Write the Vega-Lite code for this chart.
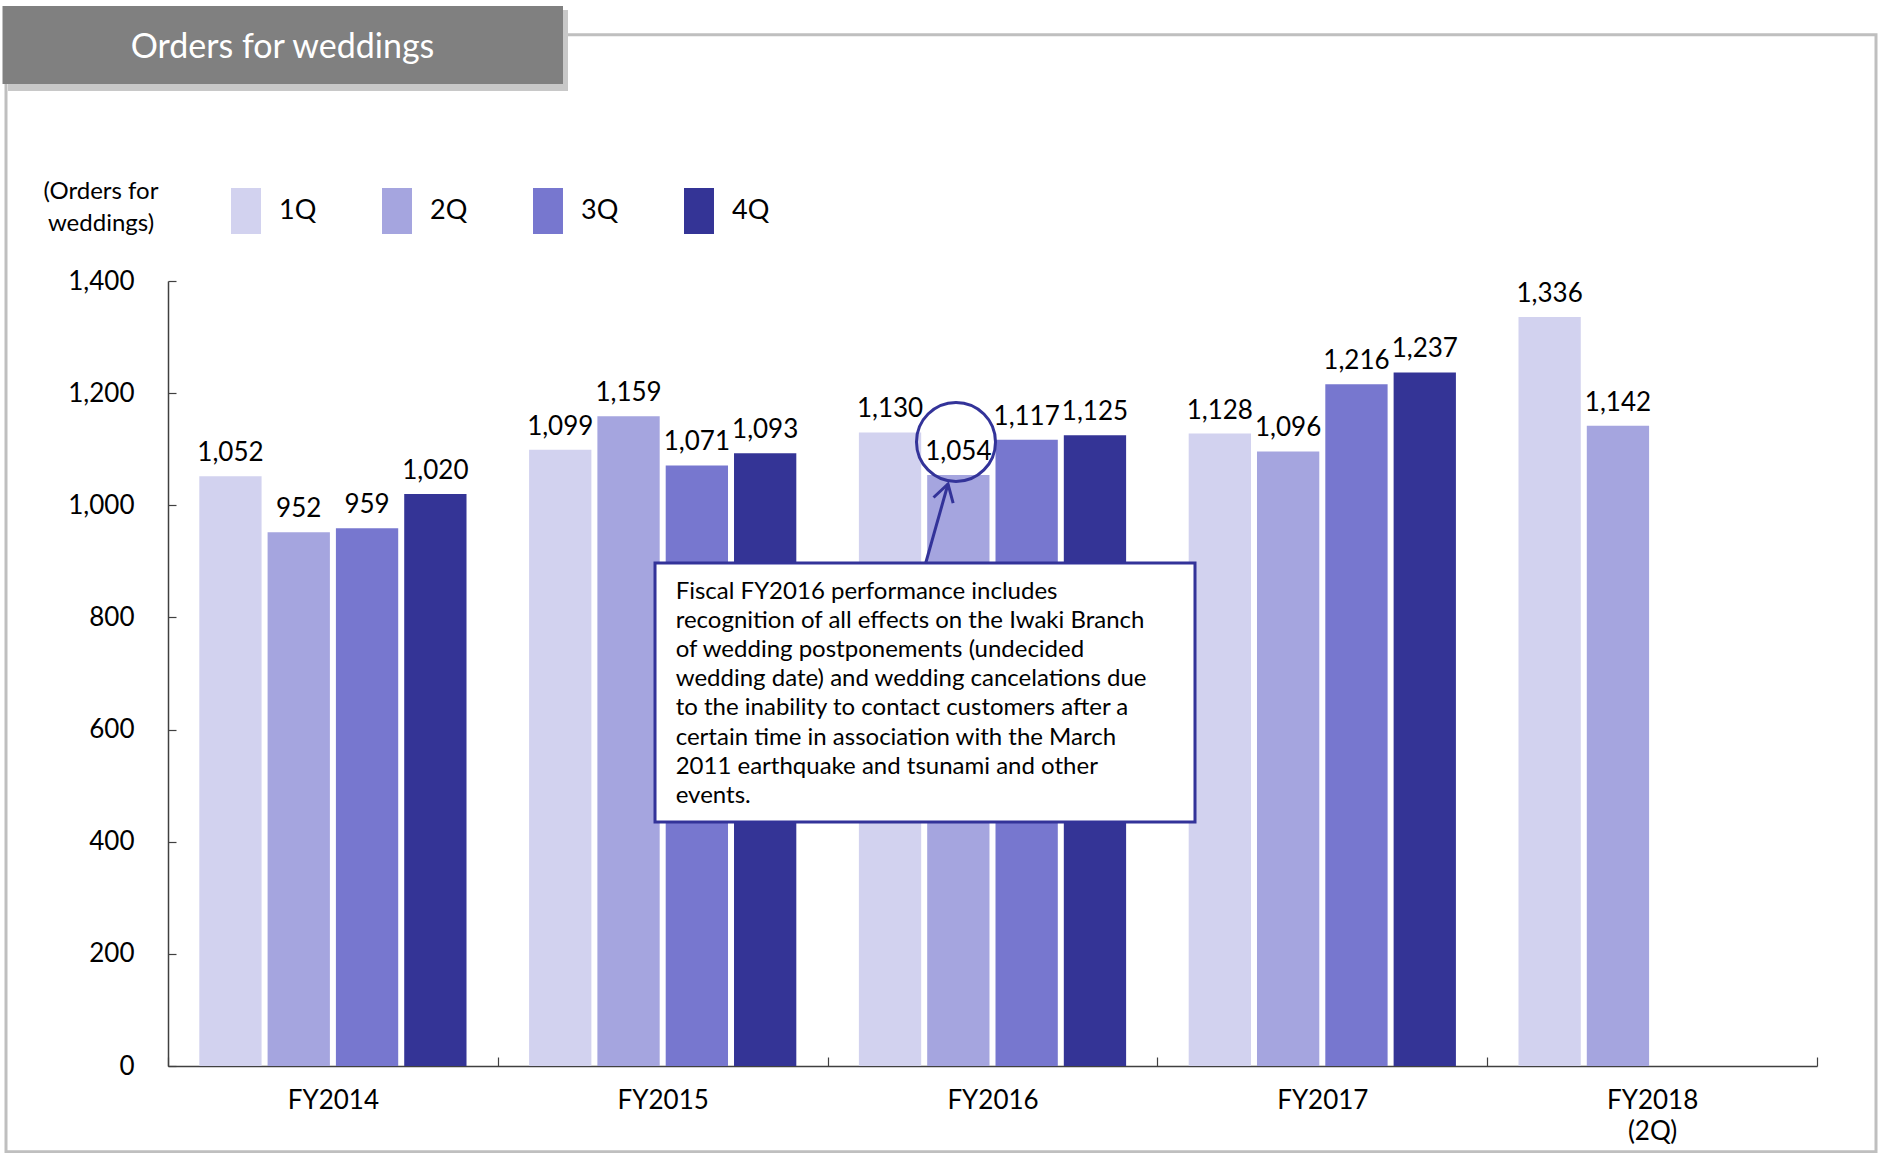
{
  "$schema": "https://vega.github.io/schema/vega-lite/v6.json",
  "width": 1649,
  "height": 785,
  "autosize": {"type": "none"},
  "padding": {"left": 168, "top": 281, "right": 62, "bottom": 87},
  "background": "white",
  "config": {"view": {"stroke": null}, "font": "Lato"},
  "layer": [
    {
      "data": {"values": [{}]},
      "layer": [
        {
          "mark": {"type": "rect", "fill": "white", "fillOpacity": 0, "stroke": "#bfbfbf", "strokeWidth": 3},
          "encoding": {
            "x": {"datum": -0.4912, "type": "quantitative", "scale": {"domain": [0, 5], "nice": false, "zero": false}, "axis": null},
            "x2": {"datum": 5.1789},
            "y": {"datum": 1839.3, "type": "quantitative", "scale": {"domain": [0, 1400], "nice": false, "zero": false}, "axis": null},
            "y2": {"datum": -152.8}
          }
        },
        {
          "mark": {"type": "rect", "fill": "#c8c8c8"},
          "encoding": {
            "x": {"datum": -0.4851, "type": "quantitative", "scale": {"domain": [0, 5], "nice": false, "zero": false}, "axis": null},
            "x2": {"datum": 1.2129},
            "y": {"datum": 1883.4, "type": "quantitative", "scale": {"domain": [0, 1400], "nice": false, "zero": false}, "axis": null},
            "y2": {"datum": 1738.9}
          }
        },
        {
          "mark": {"type": "rect", "fill": "#808080"},
          "encoding": {
            "x": {"datum": -0.5018, "type": "quantitative", "scale": {"domain": [0, 5], "nice": false, "zero": false}, "axis": null},
            "x2": {"datum": 1.1977},
            "y": {"datum": 1890.5, "type": "quantitative", "scale": {"domain": [0, 1400], "nice": false, "zero": false}, "axis": null},
            "y2": {"datum": 1751.4}
          }
        },
        {
          "mark": {"type": "text", "text": "Orders for weddings", "color": "white", "fontSize": 34, "align": "center", "baseline": "middle"},
          "encoding": {
            "x": {"datum": 0.3472, "type": "quantitative", "scale": {"domain": [0, 5], "nice": false, "zero": false}, "axis": null},
            "y": {"datum": 1815, "type": "quantitative", "scale": {"domain": [0, 1400], "nice": false, "zero": false}, "axis": null}
          }
        }
      ]
    },
    {
      "data": {
        "values": [
          {"fy": "FY2014", "q": "1Q", "v": 1052},
          {"fy": "FY2014", "q": "2Q", "v": 952},
          {"fy": "FY2014", "q": "3Q", "v": 959},
          {"fy": "FY2014", "q": "4Q", "v": 1020},
          {"fy": "FY2015", "q": "1Q", "v": 1099},
          {"fy": "FY2015", "q": "2Q", "v": 1159},
          {"fy": "FY2015", "q": "3Q", "v": 1071},
          {"fy": "FY2015", "q": "4Q", "v": 1093},
          {"fy": "FY2016", "q": "1Q", "v": 1130},
          {"fy": "FY2016", "q": "2Q", "v": 1054},
          {"fy": "FY2016", "q": "3Q", "v": 1117},
          {"fy": "FY2016", "q": "4Q", "v": 1125},
          {"fy": "FY2017", "q": "1Q", "v": 1128},
          {"fy": "FY2017", "q": "2Q", "v": 1096},
          {"fy": "FY2017", "q": "3Q", "v": 1216},
          {"fy": "FY2017", "q": "4Q", "v": 1237},
          {"fy": "FY2018 (2Q)", "q": "1Q", "v": 1336},
          {"fy": "FY2018 (2Q)", "q": "2Q", "v": 1142}
        ]
      },
      "encoding": {
        "x": {
          "field": "fy", "type": "nominal", "sort": null, "title": null,
          "scale": {"paddingInner": 0, "paddingOuter": 0},
          "axis": {
            "labelExpr": "split(datum.label, ' ')",
            "labelAngle": 0,
            "labelFontSize": 26,
            "labelColor": "black",
            "labelLineHeight": 31,
            "labelBaseline": "top",
            "labelPadding": 30,
            "tickBand": "extent",
            "tickSize": -9,
            "tickColor": "#404040",
            "domainColor": "#404040",
            "domainWidth": 1.5,
            "tickWidth": 1.2,
            "grid": false
          }
        },
        "xOffset": {"field": "q", "type": "nominal", "sort": ["1Q", "2Q", "3Q", "4Q"], "scale": {"paddingInner": 0.088, "paddingOuter": 0.458}},
        "y": {
          "field": "v", "type": "quantitative",
          "scale": {"domain": [0, 1400], "nice": false, "zero": true},
          "axis": {
            "values": [0, 200, 400, 600, 800, 1000, 1200, 1400],
            "format": ",.0f",
            "title": ["(Orders for", "weddings)"],
            "titleAngle": 0,
            "titleAlign": "center",
            "titleBaseline": "top",
            "titleX": -67.5,
            "titleY": -102,
            "titleFontSize": 24,
            "titleFontWeight": "normal",
            "titleColor": "black",
            "titleLineHeight": 32,
            "labelFontSize": 26,
            "labelColor": "black",
            "labelPadding": 42,
            "tickSize": -8,
            "tickColor": "#404040",
            "tickWidth": 1.2,
            "domainColor": "#404040",
            "domainWidth": 1.5,
            "grid": false
          }
        }
      },
      "layer": [
        {
          "mark": {"type": "bar"},
          "encoding": {
            "color": {
              "field": "q", "type": "nominal",
              "scale": {"domain": ["1Q", "2Q", "3Q", "4Q"], "range": ["#D2D2EF", "#A5A5DF", "#7777CF", "#343496"]},
              "legend": {
                "orient": "none",
                "direction": "horizontal",
                "legendX": 55,
                "legendY": -93,
                "title": null,
                "symbolType": "M-0.652,-1H0.652V1H-0.652Z",
                "symbolSize": 2116,
                "symbolStrokeWidth": 0,
                "symbolOpacity": 1,
                "labelFontSize": 27,
                "labelOffset": 10,
                "labelColor": "black",
                "columnPadding": 57,
                "padding": 0
              }
            }
          }
        },
        {
          "mark": {"type": "text", "baseline": "bottom", "dy": -10, "fontSize": 26, "color": "black"},
          "encoding": {"text": {"field": "v", "type": "quantitative", "format": ","}}
        }
      ]
    },
    {
      "data": {"values": [{}]},
      "layer": [
        {
          "mark": {"type": "rect", "fill": "white", "stroke": "#333399", "strokeWidth": 3},
          "encoding": {
            "x": {"datum": 1.4767, "type": "quantitative", "scale": {"domain": [0, 5], "nice": false, "zero": false}, "axis": null},
            "x2": {"datum": 3.114},
            "y": {"datum": 897.1, "type": "quantitative", "scale": {"domain": [0, 1400], "nice": false, "zero": false}, "axis": null},
            "y2": {"datum": 435.2}
          }
        },
        {
          "mark": {
            "type": "text",
            "text": [
              "Fiscal FY2016 performance includes",
              "recognition of all effects on the Iwaki Branch",
              "of wedding postponements (undecided",
              "wedding date) and wedding cancelations due",
              "to the inability to contact customers after a",
              "certain time in association with the March",
              "2011 earthquake and tsunami and other",
              "events."
            ],
            "align": "left",
            "baseline": "top",
            "fontSize": 24,
            "lineHeight": 29.2,
            "color": "black"
          },
          "encoding": {
            "x": {"datum": 1.5394, "type": "quantitative", "scale": {"domain": [0, 5], "nice": false, "zero": false}, "axis": null},
            "y": {"datum": 867.5, "type": "quantitative", "scale": {"domain": [0, 1400], "nice": false, "zero": false}, "axis": null}
          }
        },
        {
          "mark": {"type": "point", "shape": "circle", "filled": false, "stroke": "#333399", "strokeWidth": 3, "size": 6241, "opacity": 1},
          "encoding": {
            "x": {"datum": 2.3893, "type": "quantitative", "scale": {"domain": [0, 5], "nice": false, "zero": false}, "axis": null},
            "y": {"datum": 1112.9, "type": "quantitative", "scale": {"domain": [0, 1400], "nice": false, "zero": false}, "axis": null}
          }
        },
        {
          "mark": {"type": "rule", "stroke": "#333399", "strokeWidth": 3},
          "encoding": {
            "x": {"datum": 2.2975, "type": "quantitative", "scale": {"domain": [0, 5], "nice": false, "zero": false}, "axis": null},
            "x2": {"datum": 2.3651},
            "y": {"datum": 897.1, "type": "quantitative", "scale": {"domain": [0, 1400], "nice": false, "zero": false}, "axis": null},
            "y2": {"datum": 1038}
          }
        },
        {
          "mark": {"type": "point", "shape": "M-0.6,1L0,0L0.6,1", "filled": false, "stroke": "#333399", "strokeWidth": 3, "size": 1156, "angle": 16, "opacity": 1},
          "encoding": {
            "x": {"datum": 2.3651, "type": "quantitative", "scale": {"domain": [0, 5], "nice": false, "zero": false}, "axis": null},
            "y": {"datum": 1038, "type": "quantitative", "scale": {"domain": [0, 1400], "nice": false, "zero": false}, "axis": null}
          }
        }
      ]
    }
  ],
  "resolve": {"scale": {"x": "independent", "y": "independent"}}
}
